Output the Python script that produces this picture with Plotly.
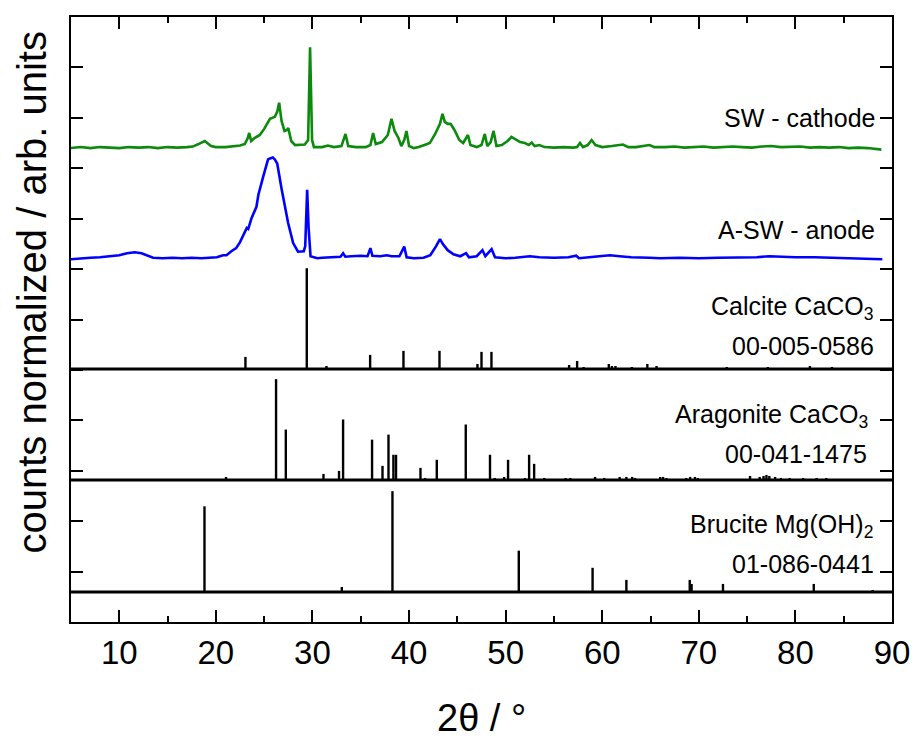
import plotly.graph_objects as go

# ---------------- data ----------------
# measured patterns: 2theta (deg) and normalized intensity (max = 1)
green_2theta = [5.0, 6.0, 7.0, 8.0, 9.0, 10.0, 11.0, 12.0, 13.0, 14.0, 15.0, 16.0, 17.0, 17.6, 18.2,
                18.85, 19.5, 20.0, 21.0, 21.8, 22.5, 23.0, 23.3, 23.45, 23.65, 24.0, 24.55, 25.0, 25.6,
                26.1, 26.35, 26.55, 26.8, 27.1, 27.35, 27.5, 27.8, 28.2, 28.7, 29.2, 29.55, 29.75, 29.96,
                30.15, 31.0, 31.6, 32.2, 33.0, 33.42, 33.7, 34.5, 35.5, 36.0, 36.28, 36.55, 37.2, 37.8,
                38.18, 38.5, 38.9, 39.2, 39.5, 39.73, 40.0, 40.5, 41.0, 41.6, 42.15, 42.7, 43.2, 43.46,
                43.7, 44.0, 44.3, 44.7, 45.2, 45.6, 45.9, 46.1, 46.35, 47.0, 47.5, 47.84, 48.1, 48.45,
                48.75, 49.05, 49.6, 50.2, 50.6, 51.0, 51.5, 52.0, 52.4, 52.7, 53.0, 53.5, 54.0, 55.0,
                56.0, 57.0, 57.4, 57.7, 58.0, 58.5, 58.9, 59.3, 60.0, 61.0, 62.15, 62.7, 63.5, 64.9,
                65.4, 66.5, 67.5, 68.5, 69.5, 70.5, 71.5, 72.5, 73.5, 74.5, 75.5, 76.5, 77.5, 78.5,
                79.5, 80.5, 81.5, 82.5, 83.5, 84.5, 85.5, 86.5, 87.5, 88.5, 88.9]
green_int = [0.0, 0.01, 0.0, 0.01, 0.005, 0.0, 0.01, 0.005, 0.01, 0.0, 0.01, 0.005, 0.01, 0.015, 0.04,
             0.07, 0.02, 0.01, 0.01, 0.015, 0.025, 0.04, 0.10, 0.15, 0.07, 0.10, 0.13, 0.19, 0.29,
             0.31, 0.36, 0.45, 0.27, 0.17, 0.18, 0.20, 0.07, 0.03, 0.03, 0.035, 0.08, 1.0, 0.08,
             0.01, 0.01, 0.025, 0.01, 0.02, 0.14, 0.02, 0.01, 0.01, 0.03, 0.15, 0.04, 0.06, 0.13,
             0.29, 0.17, 0.10, 0.02, 0.08, 0.17, 0.02, 0.0, 0.01, 0.03, 0.05, 0.14, 0.24, 0.34,
             0.26, 0.24, 0.24, 0.18, 0.08, 0.05, 0.10, 0.13, 0.03, 0.01, 0.03, 0.14, 0.02, 0.06,
             0.17, 0.02, 0.03, 0.07, 0.11, 0.09, 0.06, 0.05, 0.03, 0.055, 0.02, 0.03, 0.01, 0.005,
             0.01, 0.005, 0.01, 0.05, 0.01, 0.03, 0.08, 0.03, 0.01, 0.02, 0.035, 0.01, 0.01, 0.03,
             0.01, 0.01, 0.015, 0.005, 0.01, 0.015, 0.005, 0.01, 0.015, 0.01, 0.005, 0.015, 0.02, 0.01,
             0.01, 0.015, 0.005, 0.01, 0.005, 0.01, 0.0, 0.005, 0.0, -0.01, -0.015]

blue_2theta = [5.0, 6.0, 7.0, 8.0, 9.0, 10.0, 10.8, 11.6, 12.3, 13.0, 13.5, 14.5, 15.5, 16.5, 17.5,
               18.5, 19.5, 20.1, 20.75, 21.1, 21.6, 22.1, 22.5, 23.0, 23.2, 23.35, 23.7, 24.2, 24.4,
               24.9, 25.06, 25.4, 25.6, 25.9, 26.1, 26.35, 26.8, 27.24, 27.48, 28.0, 28.5, 29.1, 29.25,
               29.45, 29.6, 29.8, 30.5, 31.0, 32.0, 32.9, 33.17, 33.4, 34.0, 35.0, 35.7, 36.0, 36.2,
               37.0, 37.7, 38.2, 39.0, 39.5, 39.75, 40.5, 41.5, 42.2, 42.8, 43.2, 43.5, 44.0, 44.6,
               45.3, 45.9, 46.2, 47.0, 47.6, 47.9, 48.55, 48.9, 50.0, 51.0, 52.5, 53.5, 55.0, 56.5,
               57.3, 57.6, 59.0, 60.0, 60.8, 61.8, 63.0, 64.9, 66.0, 68.0, 70.0, 72.0, 74.0, 76.0,
               77.3, 78.5, 80.0, 82.0, 84.0, 86.0, 88.0, 89.0]
blue_int = [-0.01, 0.0, 0.005, 0.01, 0.02, 0.03, 0.05, 0.06, 0.05, 0.02, 0.005, 0.0, 0.005, 0.0, 0.005,
            0.0, 0.005, 0.01, 0.03, 0.03, 0.07, 0.10, 0.16, 0.25, 0.30, 0.29, 0.40, 0.51, 0.63,
            0.81, 0.86, 0.98, 0.99, 1.0, 0.98, 0.94, 0.69, 0.46, 0.35, 0.15, 0.065, 0.07, 0.12,
            0.68, 0.30, 0.02, 0.0, 0.005, 0.01, 0.015, 0.05, 0.015, 0.02, 0.025, 0.02, 0.10, 0.025,
            0.02, 0.03, 0.02, 0.02, 0.115, 0.01, 0.0, 0.005, 0.03, 0.12, 0.19, 0.14, 0.08, 0.04,
            0.02, 0.05, 0.01, 0.02, 0.08, 0.02, 0.09, 0.01, 0.0, 0.005, 0.02, 0.01, 0.005, 0.01,
            0.025, 0.0, 0.01, 0.02, 0.03, 0.02, 0.01, 0.005, 0.0, 0.005, 0.0, 0.005, 0.005, 0.01,
            0.02, 0.015, 0.01, 0.01, 0.005, 0.0, -0.005, -0.01]

# reference stick patterns: 2theta (deg) and relative intensity (%)
calcite_2theta = [23.06, 29.41, 31.45, 35.97, 39.42, 43.15, 47.08, 47.50, 48.53, 56.57, 57.40, 58.07,
                  60.68, 61.00, 61.37, 63.07, 64.67, 65.62, 69.2, 70.24, 72.89, 73.7, 77.15, 81.5,
                  83.78, 84.8, 86.0]
calcite_int = [12, 100, 3, 14, 18, 18, 5, 17, 17, 4, 8, 2, 5, 3, 3, 2, 5, 3, 1, 1, 2, 1, 2, 3, 2, 1, 1]

aragonite_2theta = [21.05, 22.35, 26.23, 27.24, 31.14, 32.75, 33.17, 36.17, 37.25, 37.87, 38.38, 38.65,
                    41.18, 41.66, 42.87, 45.87, 46.5, 48.38, 48.87, 49.84, 50.25, 52.0, 52.43, 52.95,
                    54.0, 56.2, 56.7, 59.26, 60.2, 61.8, 62.5, 63.1, 63.4, 65.0, 66.0, 66.3, 66.65,
                    68.7, 69.1, 69.6, 69.9, 70.8, 72.3, 75.3, 76.3, 76.7, 77.0, 77.3, 77.9, 78.5,
                    79.4, 80.8, 82.2, 83.2, 85.3, 86.3, 88.0, 88.7]
aragonite_int = [3, 1, 100, 50, 6, 9, 60, 40, 14, 45, 25, 25, 12, 2, 20, 55, 1, 25, 2, 3, 20, 2, 25, 16,
                 2, 2, 2, 3, 2, 3, 3, 3, 2, 1, 3, 3, 2, 2, 3, 3, 2, 1, 1, 4, 3, 4, 5, 4, 3, 2,
                 2, 2, 2, 2, 1, 1, 1, 1]

brucite_2theta = [18.82, 33.04, 38.28, 51.36, 59.0, 62.5, 69.06, 69.25, 72.5, 81.9, 88.0]
brucite_int = [85, 5, 100, 41, 24, 12, 12, 8, 8, 8, 2]

x_ticks = [10, 20, 30, 40, 50, 60, 70, 80, 90]

# ---------------- layout constants ----------------
OFF_GREEN, OFF_BLUE = 9.40, 7.215
OFF_CAL, OFF_ARA, OFF_BRU = 5.018, 2.817, 0.595
SCALE = 2.0
FONT = "Arial, Liberation Sans, sans-serif"

fig = go.Figure()

fig.add_trace(go.Scatter(x=green_2theta, y=[OFF_GREEN + SCALE * v for v in green_int],
                         mode="lines", line=dict(color="#0b8a0b", width=2.6), hoverinfo="skip"))
fig.add_trace(go.Scatter(x=blue_2theta, y=[OFF_BLUE + SCALE * v for v in blue_int],
                         mode="lines", line=dict(color="#0000ff", width=2.6), hoverinfo="skip"))


def sticks(xs, ints, base):
    sx, sy = [], []
    for x, i in zip(xs, ints):
        sx += [x, x, None]
        sy += [base, base + SCALE * i / 100.0, None]
    return sx, sy


for xs, ints, base in [(calcite_2theta, calcite_int, OFF_CAL),
                       (aragonite_2theta, aragonite_int, OFF_ARA),
                       (brucite_2theta, brucite_int, OFF_BRU)]:
    sx, sy = sticks(xs, ints, base)
    fig.add_trace(go.Scatter(x=sx, y=sy, mode="lines", line=dict(color="black", width=2.4),
                             hoverinfo="skip"))

for base in [OFF_CAL, OFF_ARA, OFF_BRU]:
    fig.add_shape(type="line", xref="paper", x0=0, x1=1, yref="y", y0=base, y1=base,
                  line=dict(color="black", width=3))

labels = [
    ("SW - cathode", 88.4, 10.0),
    ("A-SW - anode", 88.4, 7.775),
    ("Calcite CaCO<sub>3</sub>", 88.3, 6.22),
    ("00-005-0586", 88.3, 5.474),
    ("Aragonite CaCO<sub>3</sub>", 87.7, 4.08),
    ("00-041-1475", 87.6, 3.332),
    ("Brucite Mg(OH)<sub>2</sub>", 88.2, 1.90),
    ("01-086-0441", 88.3, 1.15),
]
for txt, x, y in labels:
    fig.add_annotation(text=txt, x=x, y=y, xref="x", yref="y", xanchor="right", yanchor="middle",
                       showarrow=False, font=dict(family=FONT, size=25, color="black"))

fig.add_annotation(text="counts normalized / arb. units", xref="paper", yref="paper",
                   x=-0.0475, y=0.5446, xanchor="center", yanchor="middle", textangle=-90,
                   showarrow=False, font=dict(family=FONT, size=40, color="black"))
fig.add_annotation(text="2θ / °", xref="paper", yref="paper", x=0.5005, y=-0.158,
                   xanchor="center", yanchor="middle",
                   showarrow=False, font=dict(family=FONT, size=38, color="black"))

fig.update_layout(
    template="none",
    width=914, height=740,
    margin=dict(l=71, r=22, t=17, b=118, autoexpand=False),
    paper_bgcolor="white", plot_bgcolor="white",
    showlegend=False,
    xaxis=dict(range=[5, 90], tickmode="array", tickvals=x_ticks, ticktext=[str(t) for t in x_ticks],
               ticks="inside", ticklen=12, tickwidth=2, tickcolor="black", automargin=False,
               showline=True, linewidth=2, linecolor="black", mirror="ticks",
               showgrid=False, zeroline=False,
               tickfont=dict(family=FONT, size=33, color="black"),
               minor=dict(dtick=5, tick0=0, ticks="inside", ticklen=6, tickwidth=2,
                          tickcolor="black", showgrid=False)),
    yaxis=dict(range=[0, 12], tickmode="linear", tick0=0, dtick=1, automargin=False,
               ticks="inside", ticklen=12, tickwidth=2, tickcolor="black",
               showticklabels=False, showline=True, linewidth=2, linecolor="black",
               mirror="ticks", showgrid=False, zeroline=False),
)

fig.write_html("out.html", config={"displayModeBar": False},
               post_script="document.body.style.margin='0';document.body.style.overflow='hidden';")
